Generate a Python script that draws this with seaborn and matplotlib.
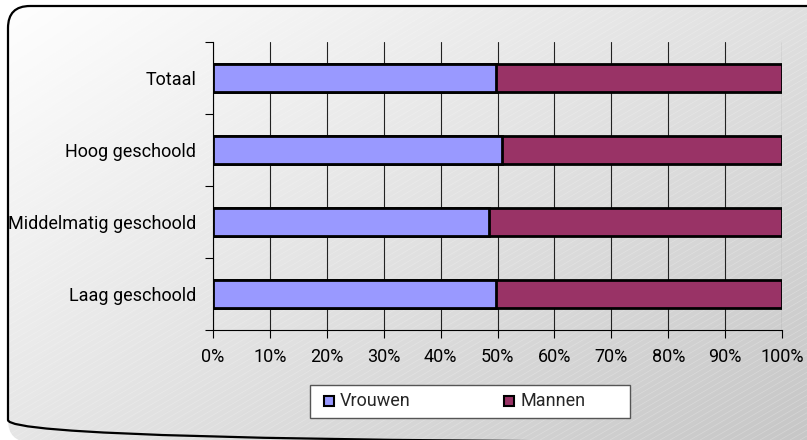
import numpy as np
import pandas as pd
import matplotlib
matplotlib.use("Agg")
import matplotlib.pyplot as plt
from matplotlib.patches import FancyBboxPatch, Rectangle
import seaborn as sns

categories = ["Totaal", "Hoog geschoold", "Middelmatig geschoold", "Laag geschoold"]
vrouwen = [49.7, 50.8, 48.5, 49.8]
mannen = [50.3, 49.2, 51.5, 50.2]
xticks = [0, 10, 20, 30, 40, 50, 60, 70, 80, 90, 100]
xticklabels = [f"{v}%" for v in xticks]

sns.set_theme(style="white")
plt.rcParams['font.family'] = ['Roboto', 'DejaVu Sans']
FS = 13

fig = plt.figure(figsize=(8.07, 4.40), dpi=100)

# background with gradient & rounded border
bg = fig.add_axes([0, 0, 1, 1])
bg.set_xlim(0, 807); bg.set_ylim(440, 0); bg.axis("off")
xx, yy = np.meshgrid(np.linspace(0, 1, 200), np.linspace(0, 1, 200))
grad = 1.0 - 0.22 * (0.55 * xx + 0.45 * yy)
img = bg.imshow(np.dstack([grad, grad, grad]), extent=[0, 807, 440, 0], aspect="auto", zorder=0)
box = FancyBboxPatch((8, 6), 830, 436, boxstyle="round,pad=0,rounding_size=22",
                     fc="none", ec="black", lw=1.6, zorder=2)
bg.add_patch(box)
img.set_clip_path(box)
# faint diagonal texture
for x0 in np.arange(-800, 820, 10):
    ln, = bg.plot([x0, x0 + 760], [440, 0], color="white", lw=0.5, alpha=0.25, zorder=1)
    ln.set_clip_path(box)

ax = fig.add_axes([213 / 807, 1 - 330 / 440, (782 - 213) / 807, (330 - 42) / 440])
ax.patch.set_alpha(0)

df = pd.DataFrame({"cat": categories, "Vrouwen": vrouwen, "Mannen": mannen})
df["tot"] = df["Vrouwen"] + df["Mannen"]

sns.barplot(data=df, y="cat", x="tot", orient="h", color="#993366", width=0.39,
            edgecolor="black", linewidth=2, saturation=1, ax=ax, zorder=3)
sns.barplot(data=df, y="cat", x="Vrouwen", orient="h", color="#9999FF", width=0.39,
            edgecolor="black", linewidth=2, saturation=1, ax=ax, zorder=4)

ax.set_xlim(0, 100)
ax.set_ylim(3.5, -0.5)
ax.set_xticks(xticks)
ax.set_xticklabels(xticklabels, fontsize=FS, color="black")
ax.set_yticks(range(len(categories)))
ax.set_yticklabels(categories, fontsize=FS, color="black")
ax.set_xlabel(""); ax.set_ylabel("")
ax.grid(axis="x", color="#222222", lw=0.8, zorder=1)
ax.set_axisbelow(True)
for s in ["top", "right"]:
    ax.spines[s].set_visible(False)
ax.spines["left"].set_color("black"); ax.spines["left"].set_linewidth(0.8)
ax.spines["bottom"].set_color("black"); ax.spines["bottom"].set_linewidth(0.8)
ax.tick_params(axis="y", length=0, pad=12)
ax.tick_params(axis="x", length=6, width=0.8, color="black", direction="out", pad=7, bottom=True)
ax.set_yticks([-0.5, 0.5, 1.5, 2.5, 3.5], minor=True)
ax.tick_params(axis="y", which="minor", length=6, width=0.8, color="black", left=True)

# legend box
bg.add_patch(Rectangle((310, 385), 320, 33, fc="white", ec="#555555", lw=1, zorder=3))
bg.add_patch(Rectangle((324, 396), 10, 10, fc="#9999FF", ec="black", lw=1.5, zorder=4))
bg.text(340, 401.5, "Vrouwen", fontsize=FS, va="center", ha="left", zorder=4)
bg.add_patch(Rectangle((504, 396), 10, 10, fc="#993366", ec="black", lw=1.5, zorder=4))
bg.text(520, 401.5, "Mannen", fontsize=FS, va="center", ha="left", zorder=4)

fig.savefig("out.png", dpi=100)
